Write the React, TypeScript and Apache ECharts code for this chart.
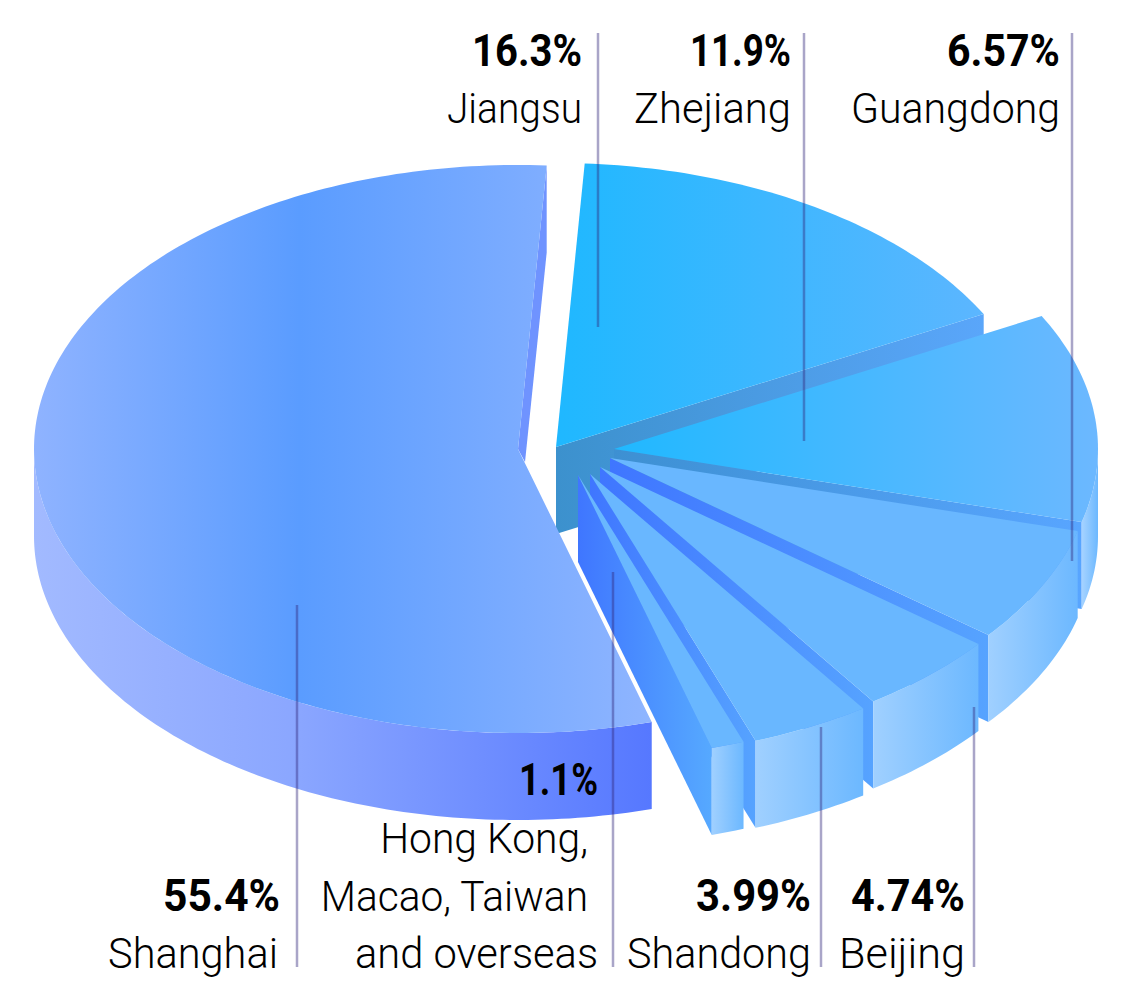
import React, { useEffect, useRef } from "react";
import * as echarts from "echarts";

// Clockwise from the top of the pie
const regions = ["Jiangsu", "Zhejiang", "Guangdong", "Beijing", "Shandong", "Hong Kong, Macao, Taiwan and overseas", "Shanghai"];
const shares = [16.3, 11.9, 6.57, 4.74, 3.99, 1.1, 55.4];
const shareLabels = ["16.3%", "11.9%", "6.57%", "4.74%", "3.99%", "1.1%", "55.4%"];

// Layout and style, separate from the data
const CX = 518, CY = 449, RX = 484, RY = 284, DEPTH = 87, START = 3.4;
const offsets = [[38, -2], [96, 0], [92, 9], [82, 18], [72, 25], [60, 26], [0, 0]];
const topStops = [
  [[0, "#1fb8ff"], [1, "#5cb6ff"]],
  [[0, "#20b8ff"], [1, "#6cb8ff"]],
  [[0, "#69b7ff"], [1, "#69b7ff"]],
  [[0, "#69b7ff"], [1, "#69b7ff"]],
  [[0, "#69b7ff"], [1, "#69b7ff"]],
  [[0, "#69b7ff"], [1, "#69b7ff"]],
  [[0, "#8fb3ff"], [0.43, "#5a9cff"], [1, "#8fb5ff"]],
];
const wallStops = [
  [[0, "#3c91cd"], [1, "#5aa6fa"]],
  [[0, "#3d90d2"], [1, "#58a5ff"]],
  [[0, "#3f76ff"], [1, "#56a3ff"]],
  [[0, "#3f76ff"], [1, "#56a3ff"]],
  [[0, "#3f76ff"], [1, "#56a3ff"]],
  [[0, "#3f76ff"], [1, "#56a9ff"]],
  [[0, "#6f93ff"], [1, "#6f93ff"]],
];
const rimStops = [
  [[0, "#a0d0ff"], [1, "#6cb8ff"]],
  [[0, "#a6d3ff"], [1, "#6cb8ff"]],
  [[0, "#a0d0ff"], [1, "#6cb8ff"]],
  [[0, "#a0d0ff"], [1, "#6cb8ff"]],
  [[0, "#a0d0ff"], [1, "#6cb8ff"]],
  [[0, "#a0d0ff"], [1, "#6cb8ff"]],
  [[0, "#a2baff"], [0.43, "#8aa6ff"], [1, "#5678ff"]],
];
const LINE = "rgba(50,40,125,0.42)";
const leaders = [
  [598, 33, 327], [804, 33, 441], [1072, 33, 561],
  [297, 605, 967], [613, 572, 967], [821, 727, 967], [974, 707, 967],
];
const NUM = 'bold 44px "Roboto"';
const TXT = '300 42px "Roboto"';
// text, right edge, baseline, font, width
const labels: [string, number, number, string, number][] = [
  [shareLabels[0], 582, 65, NUM, 110], [regions[0], 582, 122, TXT, 135],
  [shareLabels[1], 791, 65, NUM, 101], [regions[1], 791, 122, TXT, 157],
  [shareLabels[2], 1060, 65, NUM, 113], [regions[2], 1060, 122, TXT, 209],
  [shareLabels[5], 598, 794, NUM, 79],
  ["Hong Kong,", 588, 852, TXT, 208], ["Macao, Taiwan", 588, 910, TXT, 268], ["and overseas", 598, 967, TXT, 243],
  [shareLabels[6], 280, 910, NUM, 117], [regions[6], 278, 967, TXT, 170],
  [shareLabels[4], 811, 910, NUM, 115], [regions[4], 811, 967, TXT, 184],
  [shareLabels[3], 965, 910, NUM, 114], [regions[3], 965, 967, TXT, 126],
];

const total = shares.reduce((a, b) => a + b, 0);

function grad(x0: number, x1: number, stops: any[]) {
  return new echarts.graphic.LinearGradient(
    x0, 0, x1, 0,
    stops.map(([offset, color]) => ({ offset, color })),
    true
  );
}

function renderSlice(params: any, api: any) {
  const i = params.dataIndex;
  let before = 0;
  for (let k = 0; k < i; k++) before += shares[k];
  const a0 = START + (before / total) * 360;
  const a1 = a0 + (api.value(0) / total) * 360;
  const ox = CX + offsets[i][0], oy = CY + offsets[i][1];
  const pt = (deg: number, dy = 0) => {
    const r = (deg * Math.PI) / 180;
    return [ox + RX * Math.sin(r), oy - RY * Math.cos(r) + dy];
  };
  const arc = (from: number, to: number, dy = 0) => {
    const out: number[][] = [];
    const n = Math.max(2, Math.ceil(Math.abs(to - from)));
    for (let k = 0; k <= n; k++) out.push(pt(from + ((to - from) * k) / n, dy));
    return out;
  };
  const children: any[] = [];
  const endP = pt(a1);
  if (i === shares.length - 1) {
    // sliver on the upper edge of the large slice
    children.push({
      type: "polygon",
      shape: { points: [endP, [endP[0], endP[1] + DEPTH], [ox + 7, oy + 13], [ox, oy]] },
      style: { fill: wallStops[i][0][1] },
    });
  } else {
    const xs = [ox, endP[0]];
    children.push({
      type: "polygon",
      shape: { points: [[ox, oy], endP, [endP[0], endP[1] + DEPTH], [ox, oy + DEPTH]] },
      style: { fill: grad(Math.min(...xs), Math.max(...xs), wallStops[i]) },
    });
  }
  const r0 = Math.max(a0, 90), r1 = Math.min(a1, 270);
  if (r1 > r0) {
    const up = arc(r0, r1);
    const down = arc(r1, r0, DEPTH);
    const xs = up.map((p) => p[0]);
    children.push({
      type: "polygon",
      shape: { points: up.concat(down) },
      style: { fill: grad(Math.min(...xs), Math.max(...xs), rimStops[i]) },
    });
  }
  const rim = arc(a0, a1);
  const top = [[ox, oy] as number[]].concat(rim);
  const xs = top.map((p) => p[0]);
  children.push({
    type: "polygon",
    shape: { points: top },
    style: { fill: grad(Math.min(...xs), Math.max(...xs), topStops[i]) },
  });
  return { type: "group", children };
}

function fitScale(text: string, font: string, width: number) {
  const ctx = document.createElement("canvas").getContext("2d")!;
  ctx.font = font;
  return width / ctx.measureText(text).width;
}

export default function App() {
  const ref = useRef<HTMLDivElement>(null);
  useEffect(() => {
    const chart = echarts.init(ref.current!, undefined, { renderer: "svg" });
    chart.setOption({
      animation: false,
      backgroundColor: "#ffffff",
      series: [
        {
          type: "custom",
          coordinateSystem: "none",
          renderItem: renderSlice,
          data: shares.map((v, i) => ({ name: regions[i], value: [v] })),
          silent: true,
          z: 1,
        },
      ],
      graphic: [
        ...leaders.map(([x, y0, y1]) => ({
          type: "line",
          z: 10,
          shape: { x1: x, y1: y0, x2: x, y2: y1 },
          style: { stroke: LINE, lineWidth: 2.5 },
        })),
        ...labels.map(([text, x, y, font, w]) => ({
          type: "text",
          z: 11,
          x,
          y: y + (font === NUM ? 8 : 7.5),
          scaleX: fitScale(text, font, w),
          style: { text, font, fill: "#000000", textAlign: "right", textVerticalAlign: "bottom" },
        })),
      ],
    });
    return () => chart.dispose();
  }, []);
  return <div ref={ref} style={{ position: "absolute", left: 0, top: 0, width: 1127, height: 994 }} />;
}
